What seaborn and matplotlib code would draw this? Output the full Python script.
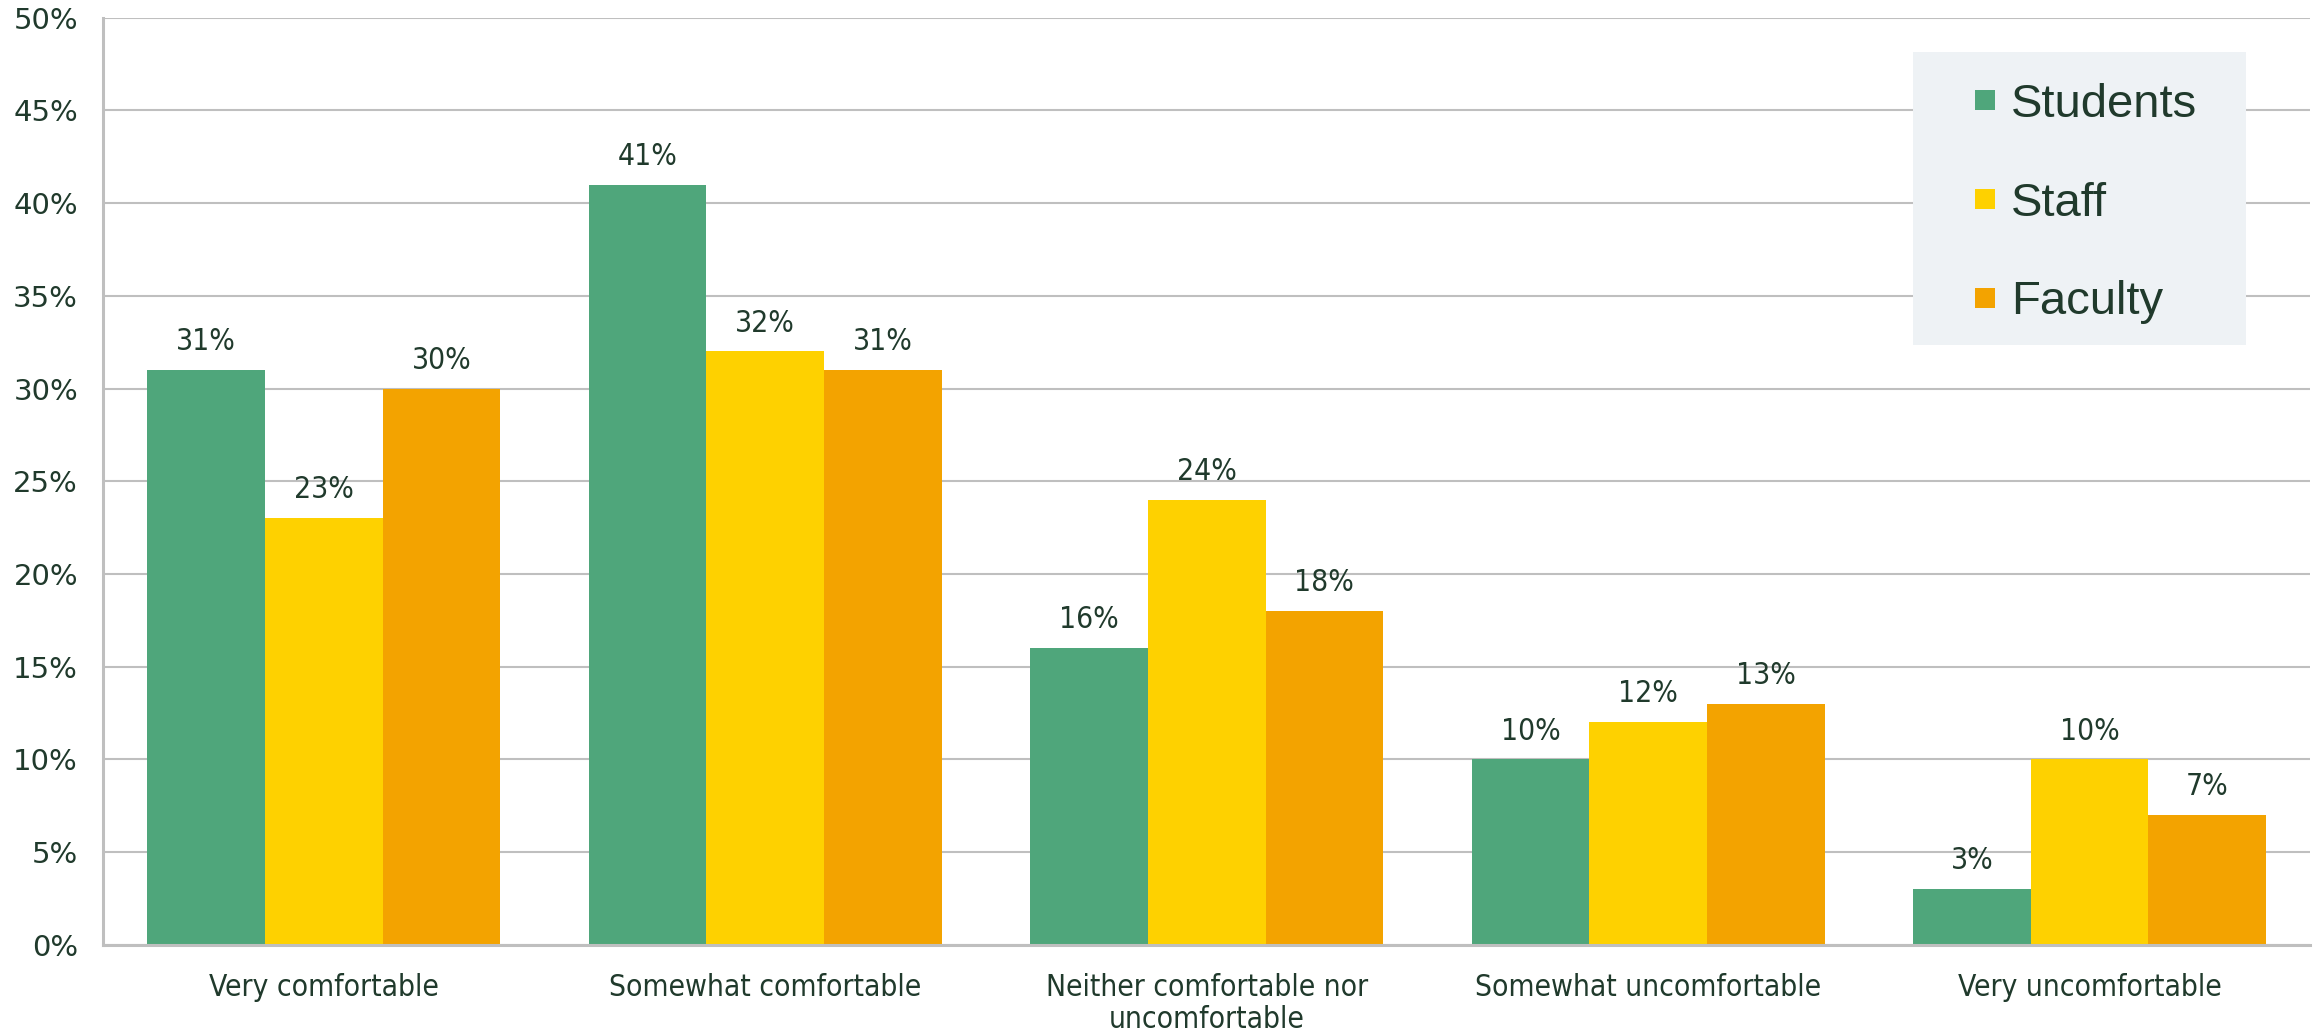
import matplotlib
matplotlib.use("Agg")
import matplotlib.pyplot as plt
from matplotlib.lines import Line2D
from matplotlib.patches import Rectangle
from matplotlib.ticker import MultipleLocator, FuncFormatter
from matplotlib import font_manager
import seaborn as sns
import pandas as pd

categories = ["Very comfortable", "Somewhat comfortable",
              "Neither comfortable nor\nuncomfortable",
              "Somewhat uncomfortable", "Very uncomfortable"]
groups = ["Students", "Staff", "Faculty"]
students = [31, 41, 16, 10, 3]
staff = [23, 32, 24, 12, 10]
faculty = [30, 31, 18, 13, 7]
colors = ["#4FA67B", "#FED100", "#F3A300"]

text_color = "#203A2C"
grid_color = "#BFBFBF"


def find_condensed():
    """Return the narrowest regular sans face available, or None."""
    rank = {"condensed": 0, "semi-condensed": 1}
    best = None
    for f in font_manager.fontManager.ttflist:
        if "Serif" in f.name or "Mono" in f.name or f.style != "normal":
            continue
        if f.weight not in (400, "normal", "regular"):
            continue
        r = rank.get(f.stretch)
        if r is None and ("Narrow" in f.name or "Condensed" in f.name):
            r = 0
        if r is None:
            continue
        if f.name.startswith("Noto Sans") and f.name != "Noto Sans":
            r += 0.5
        if best is None or r < best[0]:
            best = (r, f)
    return None if best is None else best[1]


condensed = find_condensed()

sns.set_theme(style="white")
plt.rcParams["font.family"] = ["Liberation Sans", "DejaVu Sans"]

if condensed is not None:
    narrow_props = font_manager.FontProperties(fname=condensed.fname)
    fs_narrow = 21.5
else:
    narrow_props = font_manager.FontProperties(family="DejaVu Sans")
    fs_narrow = 19
narrow_props.set_size(fs_narrow)

df = pd.DataFrame({
    "category": categories * 3,
    "group": [g for g in groups for _ in categories],
    "value": students + staff + faculty,
})

fig = plt.figure(figsize=(23.15, 10.35), dpi=100)
ax = fig.add_axes([0.0445, 0.087, 0.9535, 0.896])

sns.barplot(data=df, x="category", y="value", hue="group", order=categories,
            hue_order=groups, palette=colors, width=0.8, gap=0,
            saturation=1, linewidth=0, ax=ax, legend=False, zorder=3)

ax.set_xlim(-0.5, 4.5)
ax.set_ylim(0, 50)
ax.yaxis.set_major_locator(MultipleLocator(5))
ax.yaxis.set_major_formatter(FuncFormatter(lambda v, _: f"{v:.0f}%"))
ax.grid(axis="y", color=grid_color, linewidth=1.5, zorder=0)
ax.set_axisbelow(True)
ax.set_xlabel("")
ax.set_ylabel("")

for side in ("top", "right"):
    ax.spines[side].set_visible(False)
for side in ("left", "bottom"):
    ax.spines[side].set_color(grid_color)
    ax.spines[side].set_linewidth(2.2)
    ax.spines[side].set_zorder(4)

ax.tick_params(axis="both", length=0)
ax.tick_params(axis="y", pad=18, labelsize=21, labelcolor=text_color)
ax.tick_params(axis="x", pad=20, labelcolor=text_color)
for lbl in ax.get_yticklabels():
    lbl.set_fontfamily("DejaVu Sans")
ax.set_xticks(range(len(categories)))
ax.set_xticklabels(categories, color=text_color, linespacing=1.15,
                   fontproperties=narrow_props)

for container, vals in zip(ax.containers, [students, staff, faculty]):
    ax.bar_label(container, labels=[f"{v}%" for v in vals], padding=10,
                 color=text_color, fontproperties=narrow_props)

# legend panel
ax.add_patch(Rectangle((0.820, 0.647), 0.151, 0.316, transform=ax.transAxes,
                       facecolor="#EEF2F5", edgecolor="none", zorder=5))
handles = [Line2D([], [], marker="s", linestyle="none", markersize=15,
                  markerfacecolor=c, markeredgewidth=0) for c in colors]
leg = ax.legend(handles, groups, loc="upper left",
                bbox_to_anchor=(0.8355, 0.955), frameon=False,
                fontsize=34, labelcolor=text_color, labelspacing=1.16,
                handlelength=0.6, handletextpad=0.25, borderpad=0)
leg.set_zorder(6)

fig.savefig("out.png", dpi=100)
